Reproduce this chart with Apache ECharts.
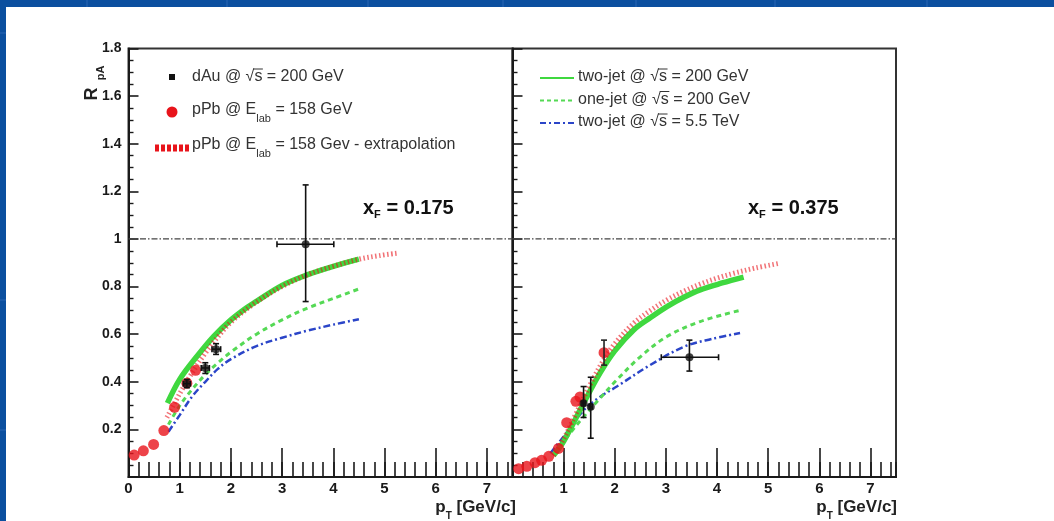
<!DOCTYPE html>
<html>
<head>
<meta charset="utf-8">
<title>R_pA vs pT</title>
<script src="https://cdn.jsdelivr.net/npm/echarts@6/dist/echarts.min.js"></script>
<style>
  html, body { margin: 0; padding: 0; background: #ffffff; }
  #chart { width: 1054px; height: 521px; }
</style>
</head>
<body>
<div id="chart"></div>
<script>
// ---- axis ranges ----
const xRange = [0, 7.5];
const yRange = [0, 1.8];
const refLevel = 1;

// ---- x_F = 0.175 panel ----
// pPb @ E_lab = 158 GeV data [pT, R]
const pPbLeft = [[0.11,0.092],[0.29,0.11],[0.49,0.137],[0.69,0.195],[0.9,0.293],[1.14,0.394],[1.31,0.448]];
// dAu @ sqrt(s) = 200 GeV [pT, R, pTlow, pThigh, Rlow, Rhigh]
const dAuLeft = [
  [1.14,0.392,1.07,1.21,0.375,0.41],
  [1.50,0.458,1.42,1.58,0.435,0.48],
  [1.71,0.537,1.63,1.80,0.515,0.56],
  [3.46,0.978,2.90,4.01,0.737,1.227]
];
const twoJet200Left = [[0.76,0.31],[1.0,0.41],[1.33,0.505],[1.66,0.59],[2.0,0.66],[2.3,0.71],[2.5,0.738],[3.0,0.805],[3.5,0.85],[4.0,0.885],[4.5,0.915]];
const oneJet200Left = [[0.78,0.22],[1.0,0.30],[1.25,0.37],[1.5,0.43],[1.75,0.48],[2.0,0.525],[2.5,0.60],[3.0,0.66],[3.5,0.71],[4.0,0.75],[4.5,0.79]];
const twoJet5500Left = [[0.78,0.19],[1.0,0.26],[1.25,0.34],[1.5,0.40],[1.75,0.455],[2.0,0.495],[2.5,0.55],[3.0,0.585],[3.5,0.615],[4.0,0.64],[4.5,0.663]];
const pPbExtrapLeft = [[0.75,0.25],[1.0,0.35],[1.25,0.44],[1.5,0.52],[1.75,0.59],[2.0,0.65],[2.5,0.735],[3.0,0.80],[3.5,0.85],[4.0,0.885],[4.5,0.915],[4.9,0.93],[5.25,0.94]];

// ---- x_F = 0.375 panel ----
const pPbRight = [[0.12,0.035],[0.28,0.045],[0.44,0.06],[0.57,0.07],[0.71,0.087],[0.9,0.12],[1.06,0.228],[1.24,0.318],[1.32,0.336],[1.79,0.522]];
const pPbRightErr = [[1.79,0.522,1.79,1.79,0.47,0.575]];
const dAuRight = [
  [1.39,0.31,1.36,1.42,0.25,0.38],
  [1.53,0.295,1.50,1.56,0.163,0.419],
  [3.46,0.503,2.91,4.03,0.445,0.575]
];
const twoJet200Right = [[0.8,0.09],[1.0,0.15],[1.39,0.31],[1.71,0.436],[2.0,0.53],[2.37,0.618],[2.7,0.67],[3.02,0.716],[3.35,0.755],[3.67,0.786],[4.1,0.815],[4.52,0.84]];
const oneJet200Right = [[0.93,0.13],[1.3,0.23],[1.71,0.33],[2.04,0.408],[2.5,0.505],[3.02,0.59],[3.67,0.653],[4.45,0.70]];
const twoJet5500Right = [[0.74,0.1],[1.0,0.17],[1.39,0.28],[1.7,0.335],[2.04,0.38],[2.69,0.47],[3.35,0.547],[3.9,0.58],[4.45,0.605]];
const pPbExtrapRight = [[0.8,0.09],[1.0,0.16],[1.25,0.27],[1.5,0.38],[1.75,0.48],[2.0,0.56],[2.37,0.646],[2.7,0.70],[3.02,0.744],[3.35,0.78],[3.67,0.81],[4.0,0.835],[4.33,0.856],[4.75,0.878],[5.23,0.898]];

// ---- text ----
const panelLabels = ['0.175', '0.375'];
const xTitle = ['p', 'T', ' [GeV/c]'];

// ---- styles ----
const FONT = '"Liberation Sans", Arial, sans-serif';
const LBL_FONT = '"Liberation Sans Narrow", "Liberation Sans", Arial, sans-serif';
const RED = '#e8141b';
const GREEN = '#3fd83f';
const GREEN2 = '#55d955';
const BLUE = '#2b45c8';
const INK = '#1a1a1a';
const SLIDE_BLUE = '#0b4f9f';

const grids = [
  { left: 128.5, top: 48.5, width: 384, height: 428.5 },
  { left: 512.5, top: 48.5, width: 383.5, height: 428.5 }
];

const chart = echarts.init(document.getElementById('chart'), null, { renderer: 'canvas' });

// text measuring for composed labels (sub-scripts, overlines)
const mctx = document.createElement('canvas').getContext('2d');
function textWidth(t, size, weight) {
  mctx.font = (weight || 'normal') + ' ' + size + 'px ' + FONT;
  return mctx.measureText(t).width;
}
function runWidth(parts) {
  return parts.reduce((s, p) => s + textWidth(p.t, p.size, p.weight), 0);
}
function textRun(x, y, parts, color) {
  const els = [];
  let cx = x;
  parts.forEach(p => {
    const w = textWidth(p.t, p.size, p.weight);
    els.push({
      type: 'text', x: cx, y: y + (p.dy || 0), silent: true,
      style: { text: p.t, fontSize: p.size, fontFamily: FONT, fontWeight: p.weight || 'normal',
               fill: color || '#333', align: 'left', verticalAlign: 'middle' }
    });
    if (p.over) {
      els.push({ type: 'line', silent: true,
        shape: { x1: cx - 1, y1: y - p.size * 0.5, x2: cx + w + 0.5, y2: y - p.size * 0.5 },
        style: { stroke: color || '#333', lineWidth: 1 } });
    }
    cx += w;
  });
  return els;
}
const sqrtS = size => [{ t: '√', size: size }, { t: 's', size: size, over: true }];

// major and minor x-axes for one grid
function xAxesFor(gi, hideZero) {
  return [
    {
      type: 'value', gridIndex: gi, position: 'bottom', min: xRange[0], max: xRange[1], interval: 1,
      axisLine: { show: true, onZero: false, lineStyle: { color: INK, width: 2 } },
      axisTick: { show: true, inside: true, length: 29, lineStyle: { color: INK, width: 1.6 } },
      splitLine: { show: false },
      axisLabel: {
        margin: 4, color: INK, fontFamily: LBL_FONT, fontWeight: 'bold', fontSize: 15,
        showMaxLabel: false,
        formatter: v => (Math.abs(v - Math.round(v)) > 1e-6 || (hideZero && v === 0)) ? '' : String(Math.round(v))
      }
    },
    {
      type: 'value', gridIndex: gi, position: 'bottom', min: xRange[0], max: xRange[1], interval: 0.2,
      axisLine: { show: false, onZero: false },
      axisTick: { show: true, inside: true, length: 15, lineStyle: { color: INK, width: 1.6 } },
      splitLine: { show: false },
      axisLabel: { show: false }
    }
  ];
}
function yAxisFor(gi, labels) {
  return {
    type: 'value', gridIndex: gi, position: 'left', min: yRange[0], max: yRange[1], interval: 0.2,
    axisLine: { show: true, onZero: false, lineStyle: { color: INK, width: 2 } },
    axisTick: { show: true, inside: true, length: 10, lineStyle: { color: INK, width: 1.6 } },
    minorTick: { show: true, splitNumber: 4, length: 5, lineStyle: { color: INK, width: 1.4 } },
    splitLine: { show: false },
    axisLabel: {
      show: labels, margin: 7, color: INK, fontFamily: LBL_FONT, fontWeight: 'bold', fontSize: 14,
      formatter: v => v === 0 ? '' : String(+v.toFixed(1))
    }
  };
}

function errorBars(xi, yi, data, color) {
  return {
    type: 'custom', xAxisIndex: xi, yAxisIndex: yi, data: data, z: 6, silent: true,
    renderItem: (params, api) => {
      const x = api.value(0), y = api.value(1);
      const l = api.coord([api.value(2), y]), r = api.coord([api.value(3), y]);
      const b = api.coord([x, api.value(4)]), t = api.coord([x, api.value(5)]);
      const cap = 3;
      const st = { stroke: color, lineWidth: 1.6 };
      const seg = (x1, y1, x2, y2) => ({ type: 'line', shape: { x1, y1, x2, y2 }, style: st });
      const kids = [seg(l[0], l[1], r[0], r[1]), seg(b[0], b[1], t[0], t[1])];
      if (r[0] - l[0] > 2) {
        kids.push(seg(l[0], l[1] - cap, l[0], l[1] + cap), seg(r[0], r[1] - cap, r[0], r[1] + cap));
      }
      kids.push(seg(b[0] - cap, b[1], b[0] + cap, b[1]), seg(t[0] - cap, t[1], t[0] + cap, t[1]));
      return { type: 'group', children: kids };
    }
  };
}

function curve(xi, yi, data, color, width, type, z, opacity) {
  return {
    type: 'line', xAxisIndex: xi, yAxisIndex: yi, data: data, smooth: 0.35, showSymbol: false,
    symbol: 'none', z: z, silent: true,
    lineStyle: { color: color, width: width, type: type, opacity: opacity == null ? 1 : opacity, cap: 'butt' }
  };
}

function panelSeries(xi, yi, d) {
  const s = [
    { type: 'line', xAxisIndex: xi, yAxisIndex: yi, data: [[xRange[0], refLevel], [xRange[1], refLevel]],
      symbol: 'none', silent: true, z: 1,
      lineStyle: { color: '#444', width: 1.3, type: [6, 2, 1.5, 2] } },
    curve(xi, yi, d.blue, BLUE, 2.5, [7, 3, 2, 3], 2),
    curve(xi, yi, d.oneJet, GREEN2, 3, [5, 4], 2),
    curve(xi, yi, d.twoJet, GREEN, 5.5, 'solid', 3),
    curve(xi, yi, d.extrap, RED, 5, [1.5, 2.5], 4, 0.6),
    { type: 'scatter', xAxisIndex: xi, yAxisIndex: yi, data: d.pPb, symbol: 'circle', symbolSize: 11,
      z: 5, silent: true, itemStyle: { color: RED } },
    errorBars(xi, yi, d.dAu, '#111'),
    { type: 'scatter', xAxisIndex: xi, yAxisIndex: yi, data: d.dAu.map(p => [p[0], p[1]]),
      symbol: 'circle', symbolSize: 8, z: 7, silent: true, itemStyle: { color: '#111' } }
  ];
  if (d.pPbErr) s.push(errorBars(xi, yi, d.pPbErr, '#222'));
  return s;
}

// ---- slide frame, legends and labels ----
const graphics = [];
graphics.push({ type: 'rect', shape: { x: 0, y: 0, width: 1054, height: 7 }, style: { fill: SLIDE_BLUE }, silent: true });
graphics.push({ type: 'rect', shape: { x: 0, y: 0, width: 6, height: 521 }, style: { fill: SLIDE_BLUE }, silent: true });
[87, 227, 368, 503, 636, 775, 927].forEach(x => graphics.push({
  type: 'line', silent: true, shape: { x1: x, y1: 0, x2: x, y2: 7 }, style: { stroke: '#2a67b3', lineWidth: 1 } }));
[33, 300, 430].forEach(y => graphics.push({
  type: 'line', silent: true, shape: { x1: 0, y1: y, x2: 6, y2: y }, style: { stroke: '#2a67b3', lineWidth: 1 } }));

// left legend
graphics.push({ type: 'rect', silent: true, shape: { x: 169, y: 74, width: 6, height: 6 }, style: { fill: '#111' } });
graphics.push(...textRun(192, 77, [{ t: 'dAu @ ', size: 16 }, ...sqrtS(16), { t: ' = 200 GeV', size: 16 }]));
graphics.push({ type: 'circle', silent: true, shape: { cx: 172, cy: 112, r: 5.5 }, style: { fill: RED } });
graphics.push(...textRun(192, 110, [{ t: 'pPb @ E', size: 16 }, { t: 'lab', size: 11, dy: 9 }, { t: ' = 158 GeV', size: 16 }]));
graphics.push({ type: 'line', silent: true, shape: { x1: 155, y1: 148, x2: 189, y2: 148 },
  style: { stroke: RED, lineWidth: 7, lineDash: [4, 2] } });
graphics.push(...textRun(192, 145, [{ t: 'pPb @ E', size: 16 }, { t: 'lab', size: 11, dy: 9 }, { t: ' = 158 Gev - extrapolation', size: 16 }]));

// right legend
const rightLegend = [
  { y: 78, color: GREEN, dash: null, parts: [{ t: 'two-jet @ ', size: 16 }, ...sqrtS(16), { t: ' = 200 GeV', size: 16 }] },
  { y: 100.5, color: GREEN2, dash: [4, 3], parts: [{ t: 'one-jet @ ', size: 16 }, ...sqrtS(16), { t: ' = 200 GeV', size: 16 }] },
  { y: 123, color: BLUE, dash: [6, 3, 2, 3], parts: [{ t: 'two-jet @ ', size: 16 }, ...sqrtS(16), { t: ' = 5.5 TeV', size: 16 }] }
];
rightLegend.forEach(r => {
  graphics.push({ type: 'line', silent: true, shape: { x1: 540, y1: r.y, x2: 574, y2: r.y },
    style: { stroke: r.color, lineWidth: 2, lineDash: r.dash } });
  graphics.push(...textRun(578, r.y - 1, r.parts));
});

// x_F labels
[[363, panelLabels[0]], [748, panelLabels[1]]].forEach(([x, v]) => {
  graphics.push(...textRun(x, 208, [{ t: 'x', size: 20, weight: 'bold' }, { t: 'F', size: 11, weight: 'bold', dy: 7 },
    { t: ' = ' + v, size: 20, weight: 'bold' }], '#111'));
});

// axis titles
[516, 897].forEach(endX => {
  const parts = [{ t: xTitle[0], size: 17, weight: 'bold' }, { t: xTitle[1], size: 10, weight: 'bold', dy: 9 },
                 { t: xTitle[2], size: 17, weight: 'bold' }];
  graphics.push(...textRun(endX - runWidth(parts), 507, parts, '#222'));
});
graphics.push({ type: 'text', silent: true, x: 92, y: 94, rotation: Math.PI / 2,
  style: { text: 'R', fontSize: 18, fontFamily: FONT, fontWeight: 'bold', fill: '#222', align: 'center', verticalAlign: 'middle' } });
graphics.push({ type: 'text', silent: true, x: 101, y: 73, rotation: Math.PI / 2,
  style: { text: 'pA', fontSize: 11, fontFamily: FONT, fontWeight: 'bold', fill: '#222', align: 'center', verticalAlign: 'middle' } });

const option = {
  animation: false,
  backgroundColor: '#ffffff',
  grid: grids.map(g => Object.assign({ show: true, borderColor: '#333', borderWidth: 2, backgroundColor: 'transparent' }, g)),
  xAxis: [...xAxesFor(0, false), ...xAxesFor(1, true)],
  yAxis: [yAxisFor(0, true), yAxisFor(1, false)],
  series: [
    ...panelSeries(0, 0, { pPb: pPbLeft, dAu: dAuLeft, twoJet: twoJet200Left, oneJet: oneJet200Left,
                           blue: twoJet5500Left, extrap: pPbExtrapLeft }),
    ...panelSeries(2, 1, { pPb: pPbRight, pPbErr: pPbRightErr, dAu: dAuRight, twoJet: twoJet200Right,
                           oneJet: oneJet200Right, blue: twoJet5500Right, extrap: pPbExtrapRight })
  ],
  graphic: { elements: graphics }
};
chart.setOption(option);
</script>
</body>
</html>
